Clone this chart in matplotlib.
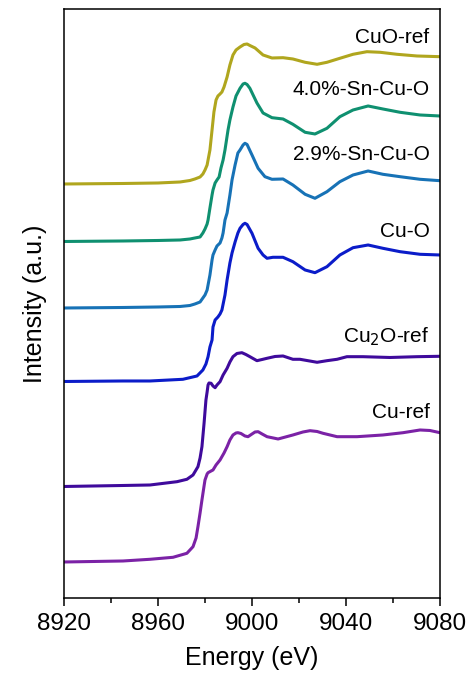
import numpy as np
import matplotlib
matplotlib.use("Agg")
import matplotlib.pyplot as plt

plt.rcParams['font.family'] = ['Liberation Sans', 'DejaVu Sans']

# energies (eV) and stacked intensities (a.u.)

e_cu = [8920.0, 8945.1, 8956.6, 8966.4, 8972.3, 8974.9, 8976.2, 8977.0, 8977.9, 8978.7,
        8979.6, 8980.0, 8980.9, 8981.3, 8982.6, 8983.4, 8984.7, 8986.4, 8988.1, 8989.4,
        8990.6, 8991.9, 8993.2, 8994.0, 8995.3, 8997.0, 8998.3, 9000.0, 9001.3, 9002.6,
        9004.3, 9006.4, 9011.1, 9017.4, 9021.7, 9024.7, 9027.7, 9030.2, 9036.2, 9044.7,
        9055.7, 9064.3, 9071.5, 9075.7, 9080.0]
i_cu = [0.360, 0.370, 0.387, 0.407, 0.447, 0.513, 0.600, 0.713, 0.850, 0.980,
        1.120, 1.180, 1.240, 1.253, 1.270, 1.280, 1.330, 1.380, 1.450, 1.513,
        1.580, 1.630, 1.650, 1.653, 1.645, 1.620, 1.613, 1.640, 1.660, 1.663,
        1.640, 1.613, 1.590, 1.630, 1.660, 1.673, 1.665, 1.647, 1.613, 1.613,
        1.630, 1.653, 1.680, 1.675, 1.653]

e_cu2o = [8920.0, 8945.1, 8956.6, 8968.1, 8972.3, 8974.9, 8977.0, 8977.9, 8978.7, 8979.6,
          8980.4, 8980.9, 8981.3, 8981.7, 8982.6, 8983.4, 8984.3, 8985.1, 8986.4, 8987.7,
          8989.4, 8990.6, 8991.9, 8993.6, 8995.7, 8997.4, 8999.1, 9002.1, 9004.3, 9006.4,
          9009.8, 9013.2, 9017.4, 9020.4, 9027.7, 9031.9, 9036.2, 9040.4, 9047.2, 9058.7,
          9070.2, 9080.0]
i_cu2o = [1.115, 1.125, 1.130, 1.163, 1.187, 1.230, 1.313, 1.400, 1.513, 1.747,
          1.980, 2.060, 2.130, 2.150, 2.147, 2.120, 2.103, 2.130, 2.163, 2.230,
          2.297, 2.360, 2.413, 2.445, 2.453, 2.435, 2.413, 2.373, 2.385, 2.397,
          2.415, 2.420, 2.387, 2.387, 2.357, 2.373, 2.387, 2.413, 2.413, 2.405,
          2.413, 2.417]

e_cuo_s = [8920.0, 8945.1, 8956.6, 8970.6, 8976.6, 8979.1, 8980.4, 8981.3, 8982.1, 8983.0,
           8983.4, 8984.3, 8985.5, 8986.4, 8987.2, 8988.5, 8989.4, 8990.6, 8991.5, 8992.8,
           8994.0, 8994.9, 8996.2, 8997.0, 8997.9, 9000.0, 9002.6, 9004.7, 9006.4, 9008.9,
           9013.2, 9017.4, 9022.6, 9026.8, 9031.9, 9037.4, 9043.0, 9049.4, 9055.7, 9063.0,
           9071.5, 9080.0]
i_cuo_s = [2.165, 2.170, 2.170, 2.187, 2.220, 2.280, 2.340, 2.413, 2.510, 2.580,
           2.710, 2.780, 2.810, 2.840, 2.880, 3.030, 3.180, 3.350, 3.450, 3.560,
           3.650, 3.697, 3.735, 3.747, 3.735, 3.647, 3.497, 3.430, 3.397, 3.407,
           3.407, 3.363, 3.280, 3.253, 3.313, 3.430, 3.503, 3.530, 3.497, 3.463,
           3.437, 3.430]

e_sn29 = [8920.0, 8945.1, 8960.0, 8969.4, 8973.6, 8975.7, 8977.9, 8979.1, 8980.0, 8980.9,
          8981.7, 8982.1, 8983.0, 8983.4, 8984.3, 8985.1, 8986.4, 8987.2, 8987.7, 8988.5,
          8989.4, 8990.6, 8991.5, 8992.8, 8994.0, 8994.9, 8996.2, 8997.0, 8997.9, 9000.0,
          9002.6, 9005.5, 9008.5, 9013.2, 9017.4, 9022.6, 9026.8, 9031.9, 9037.4, 9043.0,
          9049.4, 9055.7, 9063.0, 9071.5, 9080.0]
i_sn29 = [2.900, 2.905, 2.910, 2.915, 2.925, 2.940, 2.960, 3.000, 3.030, 3.080,
          3.180, 3.230, 3.380, 3.430, 3.480, 3.520, 3.550, 3.600, 3.650, 3.780,
          3.850, 4.030, 4.180, 4.330, 4.450, 4.480, 4.530, 4.547, 4.535, 4.430,
          4.297, 4.213, 4.187, 4.190, 4.130, 4.037, 3.997, 4.063, 4.163, 4.230,
          4.270, 4.237, 4.213, 4.187, 4.173]

e_sn40 = [8920.0, 8945.1, 8960.0, 8969.4, 8973.6, 8975.7, 8977.9, 8979.1, 8980.0, 8980.9,
          8981.3, 8982.1, 8983.0, 8983.4, 8984.3, 8985.1, 8986.0, 8986.8, 8987.7, 8988.5,
          8989.8, 8990.6, 8991.9, 8993.2, 8994.9, 8996.2, 8997.0, 8997.9, 8999.1, 9002.1,
          9004.7, 9008.5, 9013.2, 9017.4, 9022.6, 9026.8, 9031.9, 9037.4, 9043.0, 9049.4,
          9055.7, 9063.0, 9071.5, 9080.0]
i_sn40 = [3.565, 3.570, 3.575, 3.580, 3.590, 3.600, 3.610, 3.650, 3.690, 3.740,
          3.780, 3.900, 4.030, 4.080, 4.150, 4.180, 4.210, 4.300, 4.380, 4.480,
          4.680, 4.780, 4.910, 5.020, 5.097, 5.140, 5.147, 5.135, 5.097, 4.950,
          4.850, 4.803, 4.790, 4.737, 4.657, 4.640, 4.697, 4.813, 4.880, 4.920,
          4.890, 4.857, 4.830, 4.820]

e_cuo_ref = [8920.0, 8945.1, 8960.0, 8969.4, 8973.6, 8975.7, 8977.9, 8979.1, 8980.0, 8980.9,
             8981.3, 8982.1, 8983.0, 8983.8, 8984.7, 8985.5, 8986.4, 8987.2, 8988.1, 8989.4,
             8990.6, 8991.9, 8993.2, 8994.9, 8996.6, 8997.9, 8999.1, 9001.3, 9004.7, 9008.5,
             9013.2, 9017.4, 9022.6, 9027.7, 9031.9, 9037.4, 9043.0, 9048.9, 9054.5, 9061.7,
             9070.2, 9080.0]
i_cuo_ref = [4.140, 4.145, 4.150, 4.160, 4.175, 4.190, 4.210, 4.240, 4.280, 4.330,
             4.380, 4.480, 4.680, 4.860, 4.980, 5.020, 5.040, 5.060, 5.110, 5.210,
             5.330, 5.430, 5.480, 5.510, 5.535, 5.540, 5.525, 5.500, 5.430, 5.400,
             5.403, 5.390, 5.357, 5.337, 5.357, 5.397, 5.437, 5.463, 5.457, 5.437,
             5.420, 5.413]

labels = ['Cu-ref', 'Cu$_2$O-ref', 'Cu-O', '2.9%-Sn-Cu-O', '4.0%-Sn-Cu-O', 'CuO-ref']
label_y = [1.85, 2.61, 3.66, 4.43, 5.08, 5.60]
colors = ['#7b22a6', '#3f0a9c', '#0b1cc9', '#1772b6', '#0f9070', '#b0a61e']

energies = [e_cu, e_cu2o, e_cuo_s, e_sn29, e_sn40, e_cuo_ref]
intens = [i_cu, i_cu2o, i_cuo_s, i_sn29, i_sn40, i_cuo_ref]

fig = plt.figure(figsize=(4.72, 6.86), dpi=100)
ax = fig.add_axes([0.1356, 0.1283, 0.7966, 0.8586])

for e, i, c, lab, ly in zip(energies, intens, colors, labels, label_y):
    ax.plot(e, i, color=c, lw=2.2, solid_joinstyle='round', solid_capstyle='round')
    ax.text(9075.5, ly, lab, ha='right', va='center', fontsize=15)

ax.set_xlim(8920, 9080)
ax.set_ylim(0, 5.89)
ax.set_xticks([8920, 8960, 9000, 9040, 9080])
ax.set_xticks([8940, 8980, 9020, 9060], minor=True)
ax.set_yticks([])
ax.tick_params(axis='x', which='major', direction='out', length=6, width=1.1, labelsize=17.5, pad=5)
ax.tick_params(axis='x', which='minor', direction='out', length=3.5, width=1.1)
for s in ax.spines.values():
    s.set_linewidth(1.1)
ax.set_xlabel('Energy (eV)', fontsize=18, labelpad=8)
ax.set_ylabel('Intensity (a.u.)', fontsize=18, labelpad=12)

fig.savefig('out.png', dpi=100)
